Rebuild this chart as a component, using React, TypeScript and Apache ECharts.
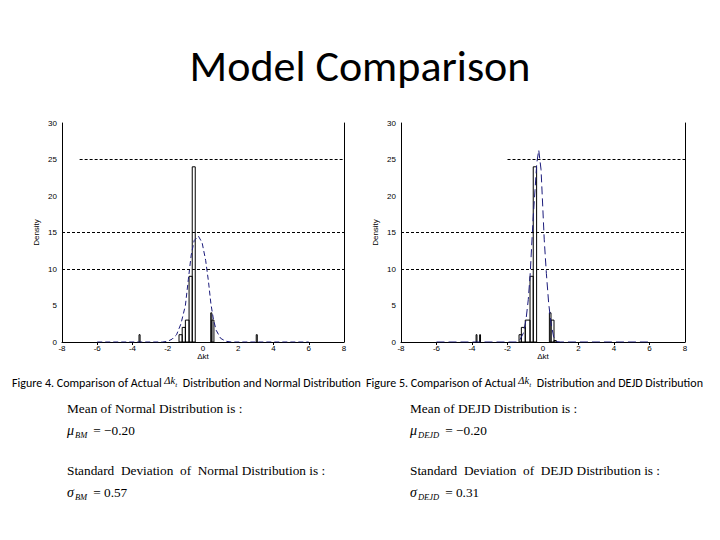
import React, { useEffect, useRef } from 'react';
import * as echarts from 'echarts';

// axis ticks
const xMin = -8;
const xMax = 8;
const xStep = 2;
const yMin = 0;
const yMax = 30;
const yStep = 5;
const topTicks1 = [-6, -4, 4, 6];
const topTicks2 = [-6, -4, -2, 2, 4, 6];

// histogram bins: [left edge, right edge, density]
const hist1 = [
  [-3.63, -3.57, 1],
  [-1.36, -1.18, 1],
  [-1.18, -1.0, 2],
  [-1.0, -0.79, 3],
  [-0.79, -0.61, 9],
  [-0.61, -0.44, 24],
  [0.44, 0.5, 4],
  [0.5, 0.62, 3],
  [3.02, 3.08, 1],
];
const hist2 = [
  [-3.77, -3.72, 1],
  [-3.57, -3.52, 1],
  [-1.35, -1.22, 1],
  [-1.22, -1.0, 2],
  [-1.0, -0.73, 3],
  [-0.73, -0.55, 9],
  [-0.55, -0.36, 24],
  [0.36, 0.45, 4],
  [0.45, 0.62, 3],
  [0.62, 0.75, 0.2],
];

// fitted density curves: [x, density]
const normalCurve = [
  [-6, 0], [-2.3, 0], [-2.0, 0.1], [-1.75, 0.4], [-1.5, 1.0], [-1.25, 2.5],
  [-1.0, 5.0], [-0.83, 8.6], [-0.67, 11.9], [-0.5, 13.9], [-0.26, 14.5],
  [-0.05, 13.6], [0.15, 11.2], [0.31, 8.3], [0.45, 5.2], [0.6, 3.0],
  [0.75, 1.6], [1.0, 0.5], [1.3, 0.1], [1.6, 0], [6, 0],
];
const dejdCurve = [
  [-6, 0], [-1.5, 0], [-1.3, 0.3], [-1.11, 1.2], [-0.96, 3.0], [-0.83, 5.8],
  [-0.72, 9.4], [-0.64, 13.1], [-0.55, 17.2], [-0.45, 20.8], [-0.35, 24.5],
  [-0.24, 26.3], [-0.11, 23.6], [-0.04, 19.9], [0.07, 14], [0.19, 9.4],
  [0.32, 5.3], [0.45, 2.6], [0.6, 0.7], [0.77, 0.05], [1.0, 0], [6, 0],
];

// dashed horizontal grid segments: [xStart, xEnd, y]
const grid1Lines = [
  [-7, 8, 25], [-8, 8, 15], [-8, 8, 10],
];
const grid2Lines = [
  [-2, 8, 25], [-8, 8, 15], [-8, 8, 10],
];

const AX_FONT = 'Liberation Sans, Arial, sans-serif';
const CAP_FONT = 'Carlito, Calibri, Lato, sans-serif';
const SERIF = 'Liberation Serif, Times New Roman, serif';
const CURVE_COLOR = '#1c1c7c';

function histItem(params: any, api: any) {
  const p0 = api.coord([api.value(0), api.value(2)]);
  const p1 = api.coord([api.value(1), 0]);
  return {
    type: 'rect',
    shape: { x: p0[0], y: p0[1], width: p1[0] - p0[0], height: p1[1] - p0[1] },
    style: { fill: 'none', stroke: '#000', lineWidth: 1 },
  };
}

function bottomX(gridIndex: number) {
  return {
    type: 'value', gridIndex, position: 'bottom', min: xMin, max: xMax, interval: xStep,
    axisLine: { show: true, onZero: false, lineStyle: { color: '#000', width: 1 } },
    axisTick: { show: false },
    splitLine: { show: false },
    axisLabel: { color: '#000', fontSize: 8, fontFamily: AX_FONT, margin: 2 },
    name: 'Δkt', nameLocation: 'middle', nameGap: 9,
    nameTextStyle: { color: '#000', fontSize: 8, fontFamily: AX_FONT },
  };
}
function topX(gridIndex: number, ticks: number[]) {
  return {
    type: 'value', gridIndex, position: 'top', min: xMin, max: xMax, interval: xStep,
    axisLine: { show: false },
    axisTick: { show: true, inside: true, length: 3, customValues: ticks, lineStyle: { color: '#000' } },
    splitLine: { show: false },
    axisLabel: { show: false },
  };
}
function leftY(gridIndex: number) {
  return {
    type: 'value', gridIndex, position: 'left', min: yMin, max: yMax, interval: yStep,
    axisLine: { show: true, onZero: false, lineStyle: { color: '#000', width: 1 } },
    axisTick: { show: false },
    splitLine: { show: false },
    axisLabel: { color: '#000', fontSize: 8, fontFamily: AX_FONT, margin: 5 },
    name: 'Density', nameLocation: 'middle', nameGap: 22, nameRotate: 90,
    nameTextStyle: { color: '#000', fontSize: 8, fontFamily: AX_FONT },
  };
}
function rightY(gridIndex: number) {
  return {
    type: 'value', gridIndex, position: 'right', min: yMin, max: yMax, interval: yStep,
    axisLine: { show: true, onZero: false, lineStyle: { color: '#000', width: 1 } },
    axisTick: { show: false },
    splitLine: { show: false },
    axisLabel: { show: false },
  };
}
function gridMark(lines: number[][]) {
  return {
    silent: true,
    symbol: ['none', 'none'],
    label: { show: false },
    lineStyle: { color: '#000', type: [3, 2], width: 1 },
    data: lines.map((l) => [{ coord: [l[0], l[2]] }, { coord: [l[1], l[2]] }]),
  };
}

function mathRich() {
  return {
    g: { fontFamily: SERIF, fontSize: 14, fontStyle: 'italic', fill: '#000', lineHeight: 18, verticalAlign: 'middle' },
    s: { fontFamily: SERIF, fontSize: 8.5, fontStyle: 'italic', fill: '#000', lineHeight: 18, verticalAlign: 'bottom', padding: [0, 6, 0, 1] },
    t: { fontFamily: SERIF, fontSize: 13.3, fill: '#000', lineHeight: 18, verticalAlign: 'middle' },
  };
}

function textBlock(x: number, mean: string, sub: string, meanVal: string, sdText: string, sdVal: string) {
  const base = { fontFamily: SERIF, fontSize: 13.3, fill: '#000' };
  return [
    { type: 'text', left: x, top: 402, style: { ...base, text: mean } },
    { type: 'text', left: x, top: 423, style: { text: `{g|μ}{s|${sub}}{t|= ${meanVal}}`, rich: mathRich() } },
    { type: 'text', left: x, top: 464, style: { ...base, text: sdText } },
    { type: 'text', left: x, top: 485, style: { text: `{g|σ}{s|${sub}}{t|= ${sdVal}}`, rich: mathRich() } },
  ];
}

function caption(x: number, pre: string, post: string) {
  return {
    type: 'text', left: x, top: 375,
    style: {
      text: `{a|${pre}}{d|Δk}{s|t}{a|${post}}`,
      rich: {
        a: { fontFamily: CAP_FONT, fontSize: 12, fill: '#000', lineHeight: 16, verticalAlign: 'bottom' },
        d: { fontFamily: SERIF, fontSize: 10.5, fontStyle: 'italic', fill: '#000', lineHeight: 16, verticalAlign: 'middle' },
        s: { fontFamily: SERIF, fontSize: 7, fontStyle: 'italic', fill: '#000', lineHeight: 16, verticalAlign: 'bottom', padding: [0, 3, 0, 0] },
      },
    },
  };
}

export default function App() {
  const ref = useRef<HTMLDivElement>(null);
  useEffect(() => {
    document.body.style.margin = '0';
    const chart = echarts.init(ref.current!, null, { renderer: 'svg' });
    chart.setOption({
      animation: false,
      backgroundColor: '#fff',
      grid: [
        { left: 62, top: 123, width: 282, height: 219 },
        { left: 401, top: 123, width: 284, height: 219 },
      ],
      xAxis: [bottomX(0), topX(0, topTicks1), bottomX(1), topX(1, topTicks2)],
      yAxis: [leftY(0), rightY(0), leftY(1), rightY(1)],
      series: [
        {
          type: 'custom', xAxisIndex: 0, yAxisIndex: 0, renderItem: histItem,
          encode: { x: [0, 1], y: 2 }, data: hist1, z: 2, silent: true,
        },
        {
          type: 'line', xAxisIndex: 0, yAxisIndex: 0, data: normalCurve, showSymbol: false,
          symbol: 'none', z: 3, silent: true,
          lineStyle: { color: CURVE_COLOR, width: 1, type: [5, 3] },
          markLine: gridMark(grid1Lines),
        },
        {
          type: 'custom', xAxisIndex: 2, yAxisIndex: 2, renderItem: histItem,
          encode: { x: [0, 1], y: 2 }, data: hist2, z: 2, silent: true,
        },
        {
          type: 'line', xAxisIndex: 2, yAxisIndex: 2, data: dejdCurve, showSymbol: false,
          symbol: 'none', z: 3, silent: true,
          lineStyle: { color: CURVE_COLOR, width: 1, type: [8, 4] },
          markLine: gridMark(grid2Lines),
        },
      ],
      graphic: [
        {
          type: 'text', left: 'center', top: 44,
          style: { text: 'Model Comparison', fontFamily: CAP_FONT, fontSize: 44, fill: '#000' },
        },
        caption(12, 'Figure 4. Comparison of Actual ', ' Distribution and Normal Distribution'),
        caption(366, 'Figure 5. Comparison of Actual ', ' Distribution and DEJD Distribution'),
        ...textBlock(67, 'Mean of Normal Distribution is :', 'BM', '−0.20',
          'Standard  Deviation  of  Normal Distribution is :', '0.57'),
        ...textBlock(410, 'Mean of DEJD Distribution is :', 'DEJD', '−0.20',
          'Standard  Deviation  of  DEJD Distribution is :', '0.31'),
      ],
    });
    return () => chart.dispose();
  }, []);
  return <div ref={ref} style={{ position: 'fixed', left: 0, top: 0, width: 720, height: 540 }} />;
}
